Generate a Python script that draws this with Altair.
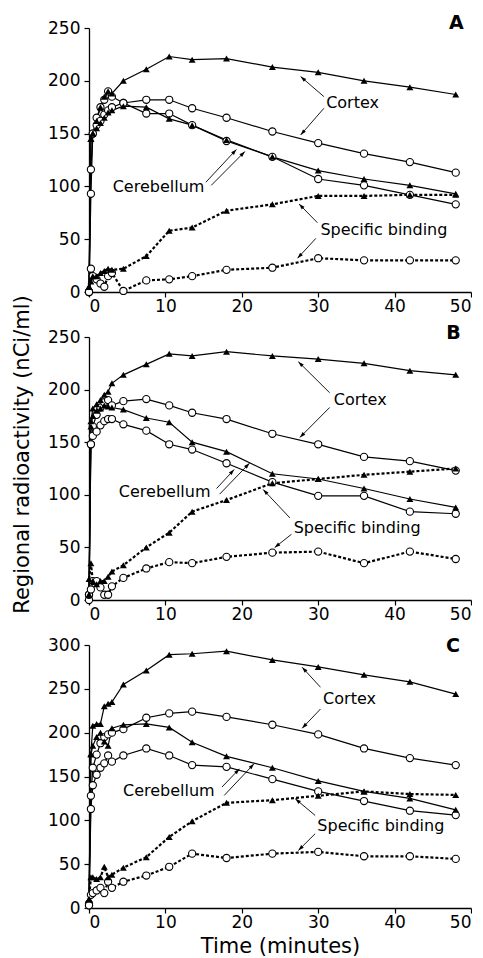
import math
import altair as alt
import pandas as pd

TIME = [0, 0.25, 0.5, 1, 1.5, 2, 2.5, 3, 4.5, 7.5, 10.5, 13.5, 18, 24, 30, 36, 42, 48]

# ---- Panel A ----
A_CORTEX_TRI = [5, 145, 150, 162, 175, 185, 190, 188, 200, 211, 223, 220, 221, 213, 208, 200, 194, 187]
A_CORTEX_CIRC = [0, 116, 150, 165, 175, 182, 190, 185, 179, 182, 182, 174, 165, 152, 141, 131, 123, 113]
A_CEREB_TRI = [5, 145, 150, 155, 160, 165, 170, 172, 176, 175, 164, 158, 144, 128, 115, 107, 101, 93]
A_CEREB_CIRC = [0, 93, 150, 158, 162, 168, 172, 175, 179, 169, 169, 158, 143, 128, 107, 101, 92, 83]
A_SPEC_TRI = [5, 10, 15, 15, 18, 20, 22, 21, 22, 34, 58, 61, 77, 83, 91, 91, 92, 92]
A_SPEC_CIRC = [0, 22, 15, 12, 8, 5, 15, 18, 1, 11, 12, 15, 21, 23, 32, 30, 30, 30]

# ---- Panel B ----
B_CORTEX_TRI = [5, 170, 182, 186, 190, 195, 198, 206, 214, 224, 234, 232, 236, 232, 229, 225, 218, 214]
B_CORTEX_CIRC = [5, 148, 165, 176, 183, 188, 190, 185, 189, 191, 185, 178, 172, 158, 148, 136, 132, 123]
B_CEREB_TRI = [5, 165, 175, 180, 182, 185, 184, 183, 181, 173, 169, 150, 141, 120, 115, 106, 96, 88]
B_CEREB_CIRC = [0, 148, 156, 160, 166, 170, 172, 172, 167, 161, 148, 143, 130, 112, 99, 99, 84, 82]
B_SPEC_TRI = [20, 35, 18, 15, 18, 18, 22, 27, 33, 50, 64, 84, 95, 111, 115, 119, 122, 125]
B_SPEC_CIRC = [5, 10, 18, 18, 12, 5, 5, 13, 21, 30, 36, 35, 41, 45, 46, 35, 46, 39]

# ---- Panel C ----
C_CORTEX_TRI = [10, 176, 208, 210, 210, 230, 233, 235, 255, 271, 289, 290, 293, 283, 275, 266, 258, 244]
C_CORTEX_CIRC = [5, 128, 160, 175, 188, 195, 198, 200, 204, 217, 222, 224, 218, 209, 198, 182, 171, 163]
C_CEREB_TRI = [10, 175, 185, 195, 200, 190, 185, 205, 209, 210, 206, 189, 173, 160, 145, 133, 125, 112]
C_CEREB_CIRC = [3, 113, 140, 152, 160, 165, 174, 167, 174, 182, 174, 163, 161, 147, 133, 122, 111, 106]
C_SPEC_TRI = [10, 35, 35, 33, 35, 47, 35, 38, 46, 58, 81, 99, 120, 123, 128, 133, 130, 129]
C_SPEC_CIRC = [3, 15, 17, 20, 23, 17, 30, 23, 30, 37, 47, 62, 57, 62, 64, 59, 59, 56]

LABEL_TEXT = ["Cortex", "Cerebellum", "Specific binding"]
A_LABEL_T = [34.5, 9.1, 38.6]
A_LABEL_V = [178.7, 99.7, 58.7]
B_LABEL_T = [35.5, 9.9, 35.1]
B_LABEL_V = [190.4, 102.8, 68.8]
C_LABEL_T = [34.1, 10.45, 38.2]
C_LABEL_V = [238.5, 134, 93.4]

# arrows: start (t1, v1) -> tip (t2, v2)
A_ARR_T1 = [30.75, 30.75, 15.3, 16.0, 29.9, 29.7]
A_ARR_V1 = [185, 174, 104, 101, 65.6, 50.8]
A_ARR_T2 = [27.7, 27.7, 19.3, 20.4, 27.5, 27.3]
A_ARR_V2 = [204, 148.7, 135, 133, 83.3, 32]
B_ARR_T1 = [31.5, 31.5, 16.7, 17.1, 26.3, 26.5]
B_ARR_V1 = [197, 183, 106, 100.6, 78, 62.5]
B_ARR_T2 = [27.4, 27.6, 19.0, 21.0, 22.8, 24.3]
B_ARR_V2 = [226.5, 154.5, 124, 130, 105, 49.8]
C_ARR_T1 = [30.3, 30.3, 17.4, 17.7, 29.6, 29.6]
C_ARR_V1 = [251.8, 227, 137.9, 128.4, 105.6, 84.7]
C_ARR_T2 = [27.9, 27.9, 19.7, 21.6, 27.0, 27.4]
C_ARR_V2 = [274.6, 205, 158.8, 164.5, 124.6, 65.7]

PANEL_LETTERS = ["A", "B", "C"]
LETTER_T = [48.1, 47.7, 47.65]
LETTER_V = [255, 254, 299]
Y_MAX = [250, 250, 300]

WIDTH = 382
HEIGHTS = [264, 263, 263]
FONT = "DejaVu Sans"


def panel(idx, series, label_t, label_v, at1, av1, at2, av2, x_title, y_title):
    ymax = Y_MAX[idx]
    height = HEIGHTS[idx]
    rows = []
    for name, vals, marker, style in series:
        for t, v in zip(TIME, vals):
            rows.append(dict(series=name, t=t, v=v, marker=marker, style=style))
    df = pd.DataFrame(rows)

    xaxis = alt.Axis(values=[0, 10, 20, 30, 40, 50], title=x_title) if x_title else alt.Axis(values=[0, 10, 20, 30, 40, 50], title=None)
    yvals = list(range(0, ymax + 1, 50))
    if y_title:
        yaxis = alt.Axis(values=yvals, title=y_title, titleY=117, titlePadding=15)
    else:
        yaxis = alt.Axis(values=yvals, title=None)

    x = alt.X("t:Q", scale=alt.Scale(domain=[0, 50], nice=False, zero=False), axis=xaxis)
    y = alt.Y("v:Q", scale=alt.Scale(domain=[0, ymax], nice=False), axis=yaxis)
    xs = alt.X("t:Q", scale=alt.Scale(domain=[0, 50], nice=False, zero=False))
    ys = alt.Y("v:Q", scale=alt.Scale(domain=[0, ymax], nice=False))

    base = alt.Chart(df)
    solid = base.transform_filter(alt.datum.style == "solid").mark_line(
        color="black", strokeWidth=1.2).encode(x=x, y=y, detail="series:N", order="t:Q")
    dotted = base.transform_filter(alt.datum.style == "dotted").mark_line(
        color="black", strokeWidth=2.2, strokeDash=[3, 2]).encode(x=xs, y=ys, detail="series:N", order="t:Q")
    circles = base.transform_filter(alt.datum.marker == "circle").mark_point(
        shape="circle", size=52, filled=True, fill="white", stroke="black",
        strokeWidth=1.1, opacity=1).encode(x=xs, y=ys)
    tris = base.transform_filter(alt.datum.marker == "triangle").mark_point(
        shape="triangle-up", size=48, filled=True, color="black", opacity=1).encode(x=xs, y=ys)

    lab_df = pd.DataFrame(dict(t=label_t, v=label_v, text=LABEL_TEXT))
    labels = alt.Chart(lab_df).mark_text(
        font=FONT, fontSize=16, color="black", align="center", baseline="middle").encode(
        x=xs, y=ys, text="text:N")

    sx = WIDTH / 50.0
    sy = height / float(ymax)
    angles = []
    for a, b, c, d in zip(at1, av1, at2, av2):
        ang = math.degrees(math.atan2((c - a) * sx, (d - b) * sy)) % 360
        angles.append(ang)
    arr_df = pd.DataFrame(dict(t=at1, v=av1, t2=at2, v2=av2, ang=angles))
    rules = alt.Chart(arr_df).mark_rule(color="black", strokeWidth=0.9).encode(
        x=xs, y=ys, x2="t2:Q", y2="v2:Q")
    heads = alt.Chart(arr_df).mark_point(
        shape="M0,0L0.36,1.1L-0.36,1.1Z", size=110, filled=True, color="black", opacity=1).encode(
        x=alt.X("t2:Q", scale=alt.Scale(domain=[0, 50], nice=False, zero=False)),
        y=alt.Y("v2:Q", scale=alt.Scale(domain=[0, ymax], nice=False)),
        angle=alt.Angle("ang:Q", scale=None))

    let_df = pd.DataFrame(dict(t=[LETTER_T[idx]], v=[LETTER_V[idx]], text=[PANEL_LETTERS[idx]]))
    letter = alt.Chart(let_df).mark_text(
        font=FONT, fontSize=19, fontWeight="bold", color="black", align="center", baseline="middle").encode(
        x=xs, y=ys, text="text:N")

    return alt.layer(solid, dotted, circles, tris, rules, heads, labels, letter).properties(
        width=WIDTH, height=height)


def series_for(ct, cc, et, ec, st, sc):
    return [
        ("cortex_tri", ct, "triangle", "solid"),
        ("cortex_circ", cc, "circle", "solid"),
        ("cereb_tri", et, "triangle", "solid"),
        ("cereb_circ", ec, "circle", "solid"),
        ("spec_tri", st, "triangle", "dotted"),
        ("spec_circ", sc, "circle", "dotted"),
    ]


pa = panel(0, series_for(A_CORTEX_TRI, A_CORTEX_CIRC, A_CEREB_TRI, A_CEREB_CIRC, A_SPEC_TRI, A_SPEC_CIRC),
           A_LABEL_T, A_LABEL_V, A_ARR_T1, A_ARR_V1, A_ARR_T2, A_ARR_V2, None, None)
pb = panel(1, series_for(B_CORTEX_TRI, B_CORTEX_CIRC, B_CEREB_TRI, B_CEREB_CIRC, B_SPEC_TRI, B_SPEC_CIRC),
           B_LABEL_T, B_LABEL_V, B_ARR_T1, B_ARR_V1, B_ARR_T2, B_ARR_V2, None,
           "Regional radioactivity (nCi/ml)")
pc = panel(2, series_for(C_CORTEX_TRI, C_CORTEX_CIRC, C_CEREB_TRI, C_CEREB_CIRC, C_SPEC_TRI, C_SPEC_CIRC),
           C_LABEL_T, C_LABEL_V, C_ARR_T1, C_ARR_V1, C_ARR_T2, C_ARR_V2, "Time (minutes)", None)

chart = alt.vconcat(pa, pb, pc, spacing=45, bounds="flush").resolve_scale(
    x="independent", y="independent").properties(
    padding={"left": 3, "top": 5, "right": 0, "bottom": 0}
).configure_view(stroke=None).configure_axis(
    labelFont=FONT, labelFontSize=17, labelColor="black", labelPadding=4,
    titleFont=FONT, titleFontSize=21, titleFontWeight="normal", titleColor="black",
    domainColor="black", domainWidth=1.3, tickColor="black", tickWidth=1.2, tickSize=5,
    grid=False
).configure_axisX(labelPadding=1, titlePadding=5)

chart.save("out.html", embed_options={"renderer": "svg", "actions": False})
